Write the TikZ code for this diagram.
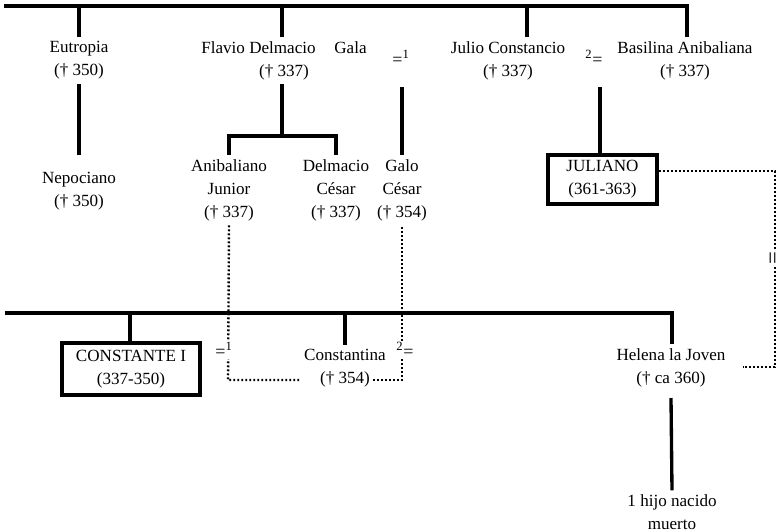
\documentclass[tikz,border=0pt]{standalone}
\usepackage{fontspec}
\setmainfont{Liberation Serif}
\begin{document}
\begin{tikzpicture}[x=0.75pt,y=-0.75pt,
  fam/.style={line width=2.5pt},
  marr/.style={line width=1.8pt, dash pattern=on 1.4pt off 1.6pt},
  person/.style={align=center, font=\fontsize{12.8}{17.2}\selectfont},
  ruler/.style={person, draw, line width=2.5pt, inner sep=0pt},
  wedlabel/.style={font=\fontsize{13.5}{15}\selectfont, inner sep=1pt},
]
\useasboundingbox (0,0) rectangle (782,532);

% ---- first generation
\node[person] (eut) at (79,60.5) {Eutropia\\(† 350)};
\node[person] (fla) at (284,60.5) {Flavio Delmacio\hspace{1.1em}Gala\\(† 337)};
\node[person] (jul) at (508,60.5) {Julio Constancio\\(† 337)};
\node[person] (bas) at (685,60.5) {Basilina Anibaliana\\(† 337)};
\node[wedlabel] (w1) at (401,58) {=\textsuperscript{1}};
\node[wedlabel] (w2) at (594,58) {\textsuperscript{2}=};

% ---- second generation
\node[person] (nep) at (79,191.5) {Nepociano\\(† 350)};
\node[person] (anib) at (229,190) {Anibaliano\\Junior\\(† 337)};
\node[person] (delm) at (336,190) {Delmacio\\César\\(† 337)};
\node[person] (galo) at (402,190) {Galo\\César\\(† 354)};
\node[ruler, minimum width=81.75pt, minimum height=36.75pt] (juliano) at (602.5,179.5) {JULIANO\\(361-363)};

% ---- third generation
\node[ruler, minimum width=103.5pt, minimum height=39pt] (constante) at (131,369) {CONSTANTE I\\(337-350)};
\node[person] (constantina) at (345,368.5) {Constantina\\(† 354)};
\node[person] (helena) at (671,367.5) {Helena la Joven\\(† ca 360)};
\node[person] (hijo) at (672,512.5) {1 hijo nacido\\muerto};

% ---- upper family bar and its drops
\coordinate (T0) at (4,6);
\coordinate (T1) at (687,6);
\coordinate (Tf) at (282,6);
\coordinate (Tj) at (527,6);
\draw[fam] (T0) -- (T1) -- (T1 |- bas.north);
\draw[fam] (eut.north |- T0) -- (eut.north);
\draw[fam] (Tf) -- (Tf |- fla.north);
\draw[fam] (Tj) -- (Tj |- jul.north);

% ---- descent lines
\draw[fam] (eut.south) -- (79,155);
\coordinate (Fb) at (282,136);
\draw[fam] (Fb |- fla.south) -- (Fb);
\draw[fam] (anib.north) -- (anib.north |- Fb) -- (delm.north |- Fb) -- (delm.north);
\draw[fam] (402,87) -- (galo.north);
\draw[fam] (600,87) -- (600,0 |- juliano.north);

% ---- lower family bar
\coordinate (B0) at (5,313);
\coordinate (B1) at (672,313);
\draw[fam] (B0) -- (B1) -- (B1 |- helena.north);
\draw[fam] (130,313) -- (130,0 |- constante.north);
\draw[fam] (constantina.north |- B0) -- (constantina.north);
\draw[fam] (671,398) -- (hijo.north);

% ---- marriages
\coordinate (Ma) at (228,380);
\coordinate (Mg) at (402,380);
\draw[marr] (anib.south) -- (Ma) -- (300,380);
\draw[marr] (373,380) -- (Mg) -- (galo.south);
\coordinate (Jr) at (775,171);
\coordinate (Hr) at (775,367);
\draw[marr] (juliano.east |- Jr) -- (Jr) -- (Hr) -- (743,367);
\node[wedlabel, fill=white] (w3) at (224,350) {=\textsuperscript{1}};
\node[wedlabel, fill=white] (w4) at (405,350) {\textsuperscript{2}=};
\node[fill=white, rotate=90, inner sep=0.5pt, font=\fontsize{17}{17}\selectfont] (w5) at (775,258) {=};
\end{tikzpicture}
\end{document}
